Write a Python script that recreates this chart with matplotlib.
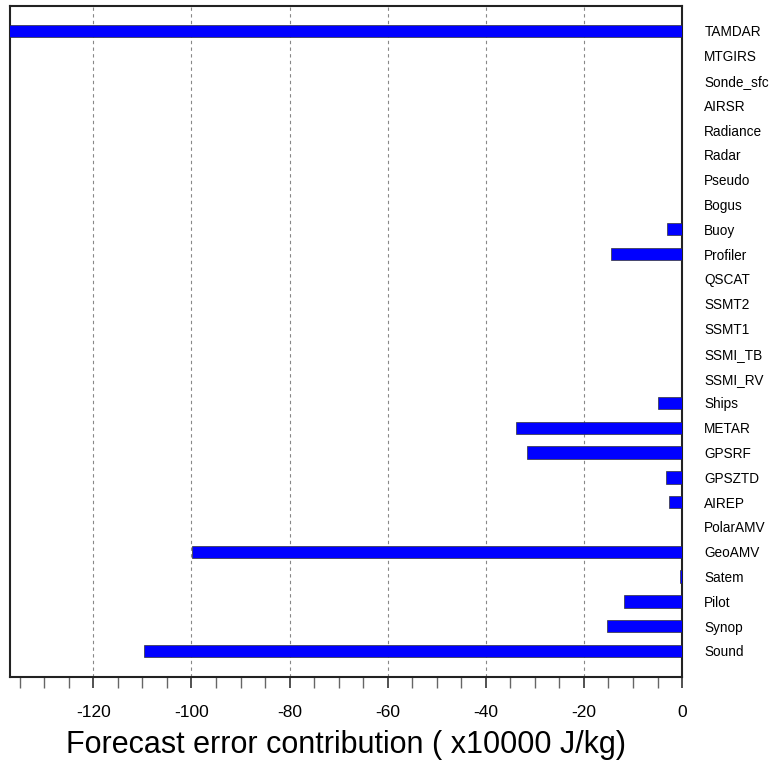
import numpy as np
import matplotlib
matplotlib.use("Agg")
import matplotlib.pyplot as plt
from matplotlib.ticker import MultipleLocator

plt.rcParams['font.family'] = ['Liberation Sans', 'DejaVu Sans']
plt.rcParams['axes.unicode_minus'] = False

# observation types, bottom to top
obs_types = ["Sound", "Synop", "Pilot", "Satem", "GeoAMV", "PolarAMV", "AIREP",
             "GPSZTD", "GPSRF", "METAR", "Ships", "SSMI_RV", "SSMI_TB", "SSMT1",
             "SSMT2", "QSCAT", "Profiler", "Buoy", "Bogus", "Pseudo", "Radar",
             "Radiance", "AIRSR", "Sonde_sfc", "MTGIRS", "TAMDAR"]
# forecast error contribution (x10000 J/kg)
contrib = [-109.6, -15.3, -11.8, -0.5, -99.8, 0.0, -2.7,
           -3.3, -31.6, -33.8, -5.0, 0.0, 0.0, 0.0,
           0.0, 0.0, -14.5, -3.0, 0.0, 0.0, 0.0,
           0.0, 0.0, 0.0, 0.0, -150.0]

fig = plt.figure(figsize=(7.8, 7.69), dpi=100)
ax = fig.add_axes([0.0128, 0.1196, 0.8616, 0.8726])

y = np.arange(len(obs_types))
ax.barh(y, contrib, height=0.5, color="#0000ff", edgecolor="#333333", linewidth=0.5, zorder=3)

ax.set_xlim(-137, 0)
ax.set_ylim(-1.05, 26.0)

ax.xaxis.set_major_locator(MultipleLocator(20))
ax.xaxis.set_minor_locator(MultipleLocator(5))
ax.tick_params(axis="x", which="both", direction="out", length=8, width=1.2,
               color="#333333", labelsize=12.5, pad=12)
ax.tick_params(axis="x", which="minor", length=8, width=1.0, color="#666666")

ax.yaxis.tick_right()
ax.set_yticks(y)
ax.set_yticklabels(obs_types)
ax.tick_params(axis="y", length=0, labelsize=9.8, pad=16)

ax.grid(axis="x", which="major", linestyle=(0, (3, 3)), color="#888888", linewidth=0.8, zorder=0)

for s in ax.spines.values():
    s.set_linewidth(1.5)
    s.set_color("#222222")

ax.set_xlabel("Forecast error contribution ( x10000 J/kg)", fontsize=22, labelpad=7)

fig.savefig("out.png", dpi=100)
